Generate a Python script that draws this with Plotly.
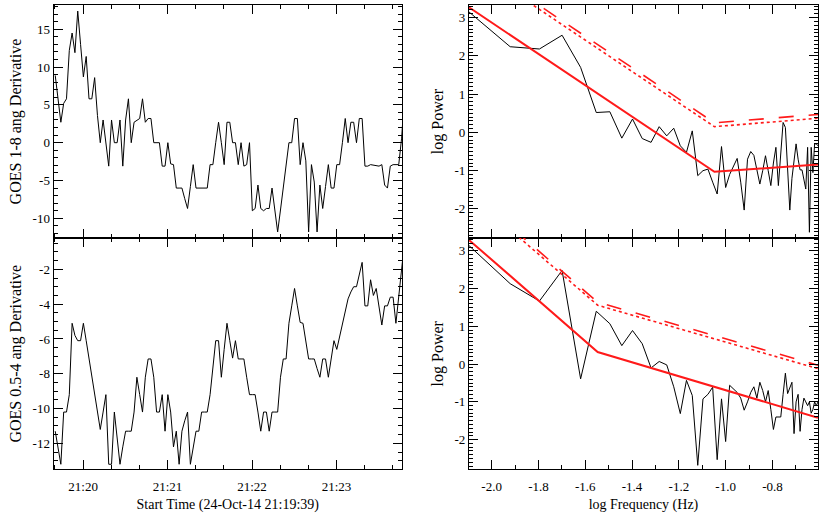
import numpy as np
import pandas as pd
import plotly.graph_objects as go

# ---- time series (GOES derivatives, 2 s cadence) ---------------------
T_START = "2014-10-24 21:19:40.2"
CADENCE = "2s"

GOES_1_8 = [
    8.9, 6.0, 2.7, 5.2, 5.8, 12.2, 14.5, 11.9, 17.4, 13.0,
    8.7, 11.4, 5.8, 5.8, 8.6, 3.6, 0.0, 3.0, 0.0, -3.1,
    3.0, 0.0, 0.0, 3.0, -3.1, 3.0, 5.8, 0.0, 2.7, 2.9,
    3.2, 5.8, 2.7, 3.2, 3.2, 0.0, 0.0, 0.0, -3.1, -3.1,
    0.0, -2.8, -2.9, -6.0, -6.0, -6.0, -7.4, -8.7, -5.8, -2.9,
    -6.0, -6.0, -6.0, -6.0, -6.0, -2.9, -2.9, 0.0, 2.7, 0.0,
    -2.9, 2.7, 2.7, 0.0, 0.0, -2.9, 0.0, -3.1, -2.9, 0.0,
    -9.0, -8.7, -5.6, -8.7, -9.0, -8.7, -8.7, -6.0, -8.9, -11.8,
    -8.9, -5.9, -3.0, 0.0, 0.0, 3.2, 3.2, -2.9, 0.0, -2.4,
    -11.8, -2.9, -5.2, -11.8, -5.6, -8.7, -5.8, -2.9, -6.0, -6.0,
    -2.9, -2.9, 0.0, 3.2, 0.0, 2.7, 2.7, 0.0, 3.2, 3.2,
    -3.1, -3.1, -2.9, -3.0, -3.1, -3.1, -2.9, -5.6, -6.0, -3.1,
    -2.9, -2.9, -2.9, 0.5, 6.0,
]

GOES_05_4 = [
    -11.3, -12.2, -13.2, -10.2, -10.2, -9.2, -5.1, -5.8, -6.1, -6.1,
    -5.1, -6.1, -7.1, -8.2, -9.2, -10.2, -11.2, -10.2, -9.2, -13.2,
    -13.2, -10.2, -11.7, -13.2, -12.2, -11.3, -11.3, -11.3, -10.2, -8.2,
    -9.2, -10.2, -8.2, -7.15, -7.15, -8.2, -10.2, -10.2, -9.2, -11.3,
    -9.2, -10.2, -12.2, -11.3, -13.2, -11.3, -10.7, -10.2, -13.2, -12.2,
    -11.3, -11.3, -10.2, -10.2, -10.2, -9.2, -7.6, -6.1, -6.1, -8.2,
    -6.6, -5.1, -6.1, -7.1, -6.1, -7.15, -7.15, -7.15, -8.2, -9.2,
    -9.2, -9.2, -10.2, -11.3, -10.2, -10.2, -11.3, -10.2, -10.2, -10.2,
    -8.2, -7.15, -7.15, -5.1, -4.1, -3.1, -4.1, -5.05, -5.1, -6.1,
    -7.15, -7.15, -7.15, -7.7, -8.2, -7.15, -7.15, -8.2, -7.1, -6.1,
    -6.6, -5.9, -5.2, -4.4, -3.7, -3.3, -3.0, -3.0, -2.3, -1.6,
    -4.1, -4.1, -2.6, -3.5, -3.1, -4.1, -5.2, -4.1, -4.1, -3.6,
    -3.6, -5.1, -3.6, -1.8, -0.5,
]

# ---- power spectra ----------------------------------------------------
FREQ_HZ = [
    0.008, 0.012, 0.016, 0.020, 0.024, 0.028, 0.032, 0.036, 0.040, 0.044,
    0.048, 0.052, 0.056, 0.060, 0.064, 0.068, 0.072, 0.076, 0.080, 0.084,
    0.088, 0.092, 0.096, 0.100, 0.104, 0.108, 0.112, 0.116, 0.120, 0.124,
    0.128, 0.132, 0.136, 0.140, 0.144, 0.148, 0.152, 0.156, 0.160, 0.164,
    0.168, 0.172, 0.176, 0.180, 0.184, 0.188, 0.192, 0.196, 0.200, 0.204,
    0.208, 0.212, 0.216, 0.220, 0.224, 0.228, 0.232, 0.236, 0.240, 0.244,
    0.248,
]

LOGP_1_8 = [
    3.15, 2.24, 2.18, 2.54, 1.70, 0.52, 0.54, -0.15, 0.35, -0.16,
    -0.26, 0.15, -0.09, 0.11, -0.35, -0.52, 0.04, -1.13, -1.0, -0.96,
    -1.3, -1.61, -0.37, -1.44, -1.1, -0.9, -0.68, -1.3, -2.03, -0.70,
    -0.5, -0.6, -1.0, -1.35, -1.0, -0.61, -1.0, -1.39, -0.8, -0.39,
    -1.39, -0.6, 0.26, 0.13, -0.9, -2.03, -1.2, -0.7, -0.30, -0.7,
    -0.98, -0.98, -1.2, -1.48, -0.39, -2.61, -0.39, -1.05, -0.3, -0.3,
    -0.35,
]

LOGP_05_4 = [
    3.14, 2.13, 1.67, 2.48, -0.39, 1.40, 1.07, 0.49, 0.89, 0.54,
    -0.1, 0.07, -0.02, -0.6, -1.31, -0.43, -0.83, -2.68, -0.92, -0.8,
    -0.61, -2.53, -0.92, -2.05, -0.56, -0.65, -0.75, -0.9, -1.22, -1.0,
    -0.75, -0.6, -0.9, -0.48, -0.7, -1.0, -0.7, -1.2, -1.73, -1.4,
    -1.4, -1.4, -0.8, -0.24, -0.78, -0.6, -0.48, -1.84, -1.0, -0.8,
    -1.78, -1.2, -0.9, -1.0, -1.1, -1.0, -1.3, -1.2, -1.0, -1.1,
    -1.0,
]

# broken power-law fits and confidence levels (log f break points)
FIT_1_8_X = [-2.097, -1.048, -0.6055]
FIT_1_8_Y = [3.27, -1.03, -0.84]
CONF_HI_1_8_Y = [4.55, 0.25, 0.47]
CONF_LO_1_8_Y = [4.45, 0.15, 0.37]

FIT_05_4_X = [-2.097, -1.547, -0.6055]
FIT_05_4_Y = [3.29, 0.32, -1.42]
CONF_HI_05_4_Y = [4.6, 1.64, -0.03]
CONF_LO_05_4_Y = [4.5, 1.56, -0.12]

# ---- tick labels ------------------------------------------------------
TIME_TICKS = ["2014-10-24 21:20", "2014-10-24 21:21", "2014-10-24 21:22", "2014-10-24 21:23"]
TIME_LABELS = ["21:20", "21:21", "21:22", "21:23"]
Y1_TICKS = [-10, -5, 0, 5, 10, 15]
Y2_TICKS = [-12, -10, -8, -6, -4, -2]
YP_TICKS = [-2, -1, 0, 1, 2, 3]
XF_TICKS = [-2.0, -1.8, -1.6, -1.4, -1.2, -1.0, -0.8]

RED = "#FF1A1A"
FONT = "Liberation Serif"

times = pd.date_range(T_START, periods=max(len(GOES_1_8), len(GOES_05_4)), freq=CADENCE)
logf = np.log10(FREQ_HZ)

fig = go.Figure()

fig.add_trace(go.Scatter(x=times[:len(GOES_1_8)], y=GOES_1_8, mode="lines",
                         line=dict(color="black", width=1), xaxis="x", yaxis="y"))
fig.add_trace(go.Scatter(x=times[:len(GOES_05_4)], y=GOES_05_4, mode="lines",
                         line=dict(color="black", width=1), xaxis="x2", yaxis="y2"))

for xa, ya, p, fx, fy, hi, lo in [
    ("x3", "y3", LOGP_1_8, FIT_1_8_X, FIT_1_8_Y, CONF_HI_1_8_Y, CONF_LO_1_8_Y),
    ("x4", "y4", LOGP_05_4, FIT_05_4_X, FIT_05_4_Y, CONF_HI_05_4_Y, CONF_LO_05_4_Y),
]:
    fig.add_trace(go.Scatter(x=logf, y=p, mode="lines",
                             line=dict(color="black", width=1), xaxis=xa, yaxis=ya))
    fig.add_trace(go.Scatter(x=fx, y=fy, mode="lines",
                             line=dict(color=RED, width=2), xaxis=xa, yaxis=ya))
    fig.add_trace(go.Scatter(x=fx, y=hi, mode="lines",
                             line=dict(color=RED, width=1.6, dash="longdash"), xaxis=xa, yaxis=ya))
    fig.add_trace(go.Scatter(x=fx, y=lo, mode="lines",
                             line=dict(color=RED, width=1.6, dash="dot"), xaxis=xa, yaxis=ya))


def ax(**kw):
    base = dict(showline=True, linecolor="black", linewidth=1, mirror="ticks",
                ticks="inside", ticklen=9, tickcolor="black", tickwidth=1,
                showgrid=False, zeroline=False, automargin=False,
                tickfont=dict(family=FONT, size=13, color="black"))
    base.update(kw)
    return base


def minor(dtick, tick0=0):
    return dict(ticks="inside", ticklen=4, tickcolor="black", dtick=dtick, tick0=tick0)


LEFT = [0.0645, 0.4843]
RIGHT = [0.565, 0.9855]
TOP = [0.5501, 0.9905]
BOT = [0.1125, 0.5501]
T_RANGE = ["2014-10-24 21:19:39", "2014-10-24 21:23:46.5"]
F_RANGE = [-2.097, -0.6055]

xtitle_font = dict(family=FONT, size=14, color="black")
ytitle_font = dict(family=FONT, size=16, color="black")

fig.update_layout(
    width=830, height=529,
    margin=dict(l=0, r=0, t=0, b=0),
    paper_bgcolor="white", plot_bgcolor="white",
    showlegend=False,
    font=dict(family=FONT, size=13, color="black"),
    xaxis=ax(domain=LEFT, anchor="y", type="date", range=T_RANGE,
             tickvals=TIME_TICKS, showticklabels=False,
             minor=minor(20000, "2014-10-24 21:20")),
    yaxis=ax(domain=TOP, anchor="x", range=[-12.6, 18.2],
             tickvals=Y1_TICKS, ticktext=[str(v) for v in Y1_TICKS],
             minor=minor(1),
             title=dict(text="GOES 1-8 ang Derivative", font=ytitle_font, standoff=6)),
    xaxis2=ax(domain=LEFT, anchor="y2", type="date", range=T_RANGE,
              tickvals=TIME_TICKS, ticktext=TIME_LABELS,
              minor=minor(20000, "2014-10-24 21:20"), ticklabelstandoff=5,
              title=dict(text="Start Time (24-Oct-14 21:19:39)", font=xtitle_font, standoff=6)),
    yaxis2=ax(domain=BOT, anchor="x2", range=[-13.5, -0.2],
              tickvals=Y2_TICKS, ticktext=[str(v) for v in Y2_TICKS],
              minor=minor(0.5),
              title=dict(text="GOES 0.5-4 ang Derivative", font=ytitle_font, standoff=6)),
    xaxis3=ax(domain=RIGHT, anchor="y3", range=F_RANGE,
              tickvals=XF_TICKS, showticklabels=False, minor=minor(0.1)),
    yaxis3=ax(domain=TOP, anchor="x3", range=[-2.76, 3.33],
              tickvals=YP_TICKS, ticktext=[str(v) for v in YP_TICKS],
              minor=minor(0.1),
              title=dict(text="log Power", font=ytitle_font, standoff=6)),
    xaxis4=ax(domain=RIGHT, anchor="y4", range=F_RANGE,
              tickvals=XF_TICKS, ticktext=[f"{v:.1f}" for v in XF_TICKS],
              minor=minor(0.1), ticklabelstandoff=5,
              title=dict(text="log Frequency (Hz)", font=xtitle_font, standoff=6)),
    yaxis4=ax(domain=BOT, anchor="x4", range=[-2.79, 3.34],
              tickvals=YP_TICKS, ticktext=[str(v) for v in YP_TICKS],
              minor=minor(0.1),
              title=dict(text="log Power", font=ytitle_font, standoff=6)),
)

# the page's default 8px body margin would shift the figure
fig.write_html("out.html", config={"displayModeBar": False},
               post_script="document.body.style.margin='0';")
